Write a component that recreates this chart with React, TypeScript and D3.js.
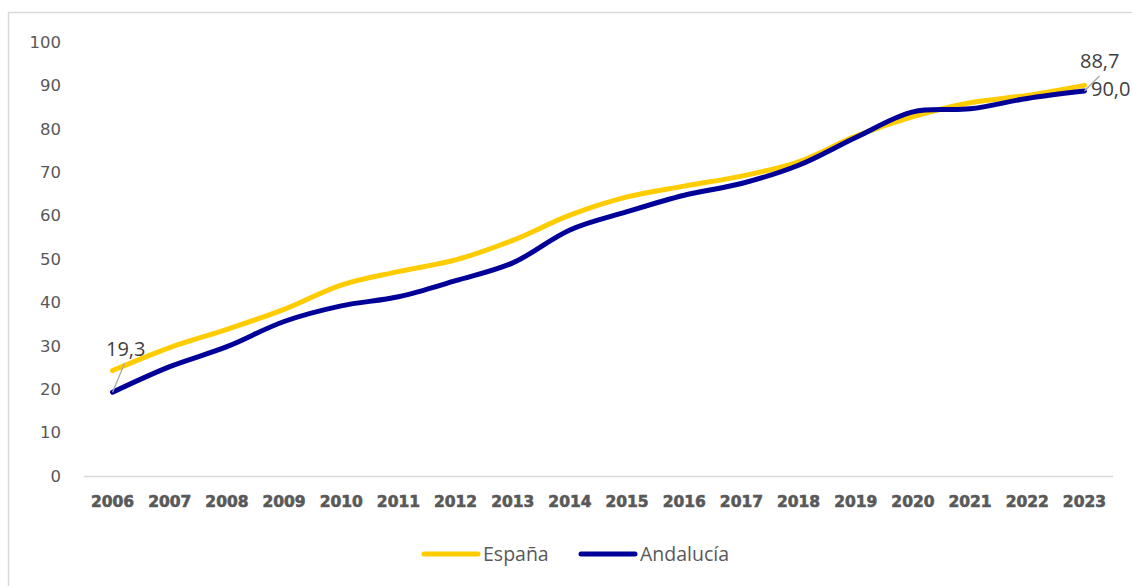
import React from "react";
import * as d3 from "d3";

const years = ["2006","2007","2008","2009","2010","2011","2012","2013","2014","2015","2016","2017","2018","2019","2020","2021","2022","2023"];
const espana = [24.3, 29.6, 33.8, 38.4, 44.0, 47.1, 49.8, 54.3, 60.1, 64.3, 66.8, 69.1, 72.4, 78.3, 82.8, 86.0, 87.7, 90.0];
const andalucia = [19.3, 25.2, 29.8, 35.6, 39.2, 41.3, 45.0, 49.1, 56.7, 60.9, 64.7, 67.4, 71.6, 78.0, 83.9, 84.6, 87.0, 88.7];
const yTicks = [0, 10, 20, 30, 40, 50, 60, 70, 80, 90, 100];
const seriesNames = ["España", "Andalucía"];
const colors = ["#FFCC00", "#000099"];

const W = 1132;
const H = 586;

export default function App() {
  const x = d3.scaleBand<string>().domain(years).range([84, 1113]);
  const y = d3.scaleLinear().domain([0, 100]).range([476, 42]);
  const cx = (yr: string) => (x(yr) as number) + x.bandwidth() / 2;
  const line = d3
    .line<number>()
    .x((_, i) => cx(years[i]))
    .y((v) => y(v))
    .curve(d3.curveCatmullRom.alpha(0.5));
  const data = [espana, andalucia];
  const font = "'Open Sans', 'Noto Sans', sans-serif";
  const first = cx(years[0]);
  const last = cx(years[years.length - 1]);
  return (
    <svg width={W} height={H} style={{ position: "absolute", left: 0, top: 0, background: "#fff" }} fontFamily={font}>
      <rect x={8.5} y={12.5} width={1300} height={700} fill="#fff" stroke="#d9d9d9" strokeWidth={1.5} />
      {yTicks.map((t) => (
        <text key={t} x={61} y={y(t)} dy="0.35em" textAnchor="end" fontSize={16.5} fontFamily="'DejaVu Sans', sans-serif" fill="#595959">
          {t}
        </text>
      ))}
      <line x1={84} x2={1113} y1={y(0) + 0.5} y2={y(0) + 0.5} stroke="#d9d9d9" strokeWidth={1.5} />
      {years.map((yr) => (
        <text key={yr} x={cx(yr)} y={502} dy="0.35em" textAnchor="middle" fontSize={15.5} fontWeight={700} fontFamily="'DejaVu Sans', sans-serif" fill="#595959" stroke="#595959" strokeWidth={0.6}>
          {yr}
        </text>
      ))}
      {data.map((d, i) => (
        <path key={i} d={line(d) as string} fill="none" stroke={colors[i]} strokeWidth={5} strokeLinecap="round" strokeLinejoin="round" />
      ))}
      {/* data labels */}
      <line x1={first} y1={y(andalucia[0])} x2={first + 12} y2={y(andalucia[0]) - 29} stroke="#a6a6a6" strokeWidth={1.3} />
      <text x={106} y={356} fontSize={20} fill="#404040">{String(andalucia[0]).replace(".", ",")}</text>
      <line x1={last} y1={y(andalucia[17])} x2={last + 15} y2={y(andalucia[17]) - 15} stroke="#a6a6a6" strokeWidth={1.3} />
      <text x={1080} y={68} fontSize={20} fill="#404040">{andalucia[17].toFixed(1).replace(".", ",")}</text>
      <text x={1091} y={96} fontSize={20} fill="#404040">{espana[17].toFixed(1).replace(".", ",")}</text>
      {/* legend */}
      {seriesNames.map((n, i) => {
        const lx = i === 0 ? 424 : 581;
        return (
          <g key={n}>
            <line x1={lx} x2={lx + 54} y1={554} y2={554} stroke={colors[i]} strokeWidth={5} strokeLinecap="round" />
            <text x={lx + 59} y={554} dy="0.35em" fontSize={19.5} fill="#595959">{n}</text>
          </g>
        );
      })}
    </svg>
  );
}
